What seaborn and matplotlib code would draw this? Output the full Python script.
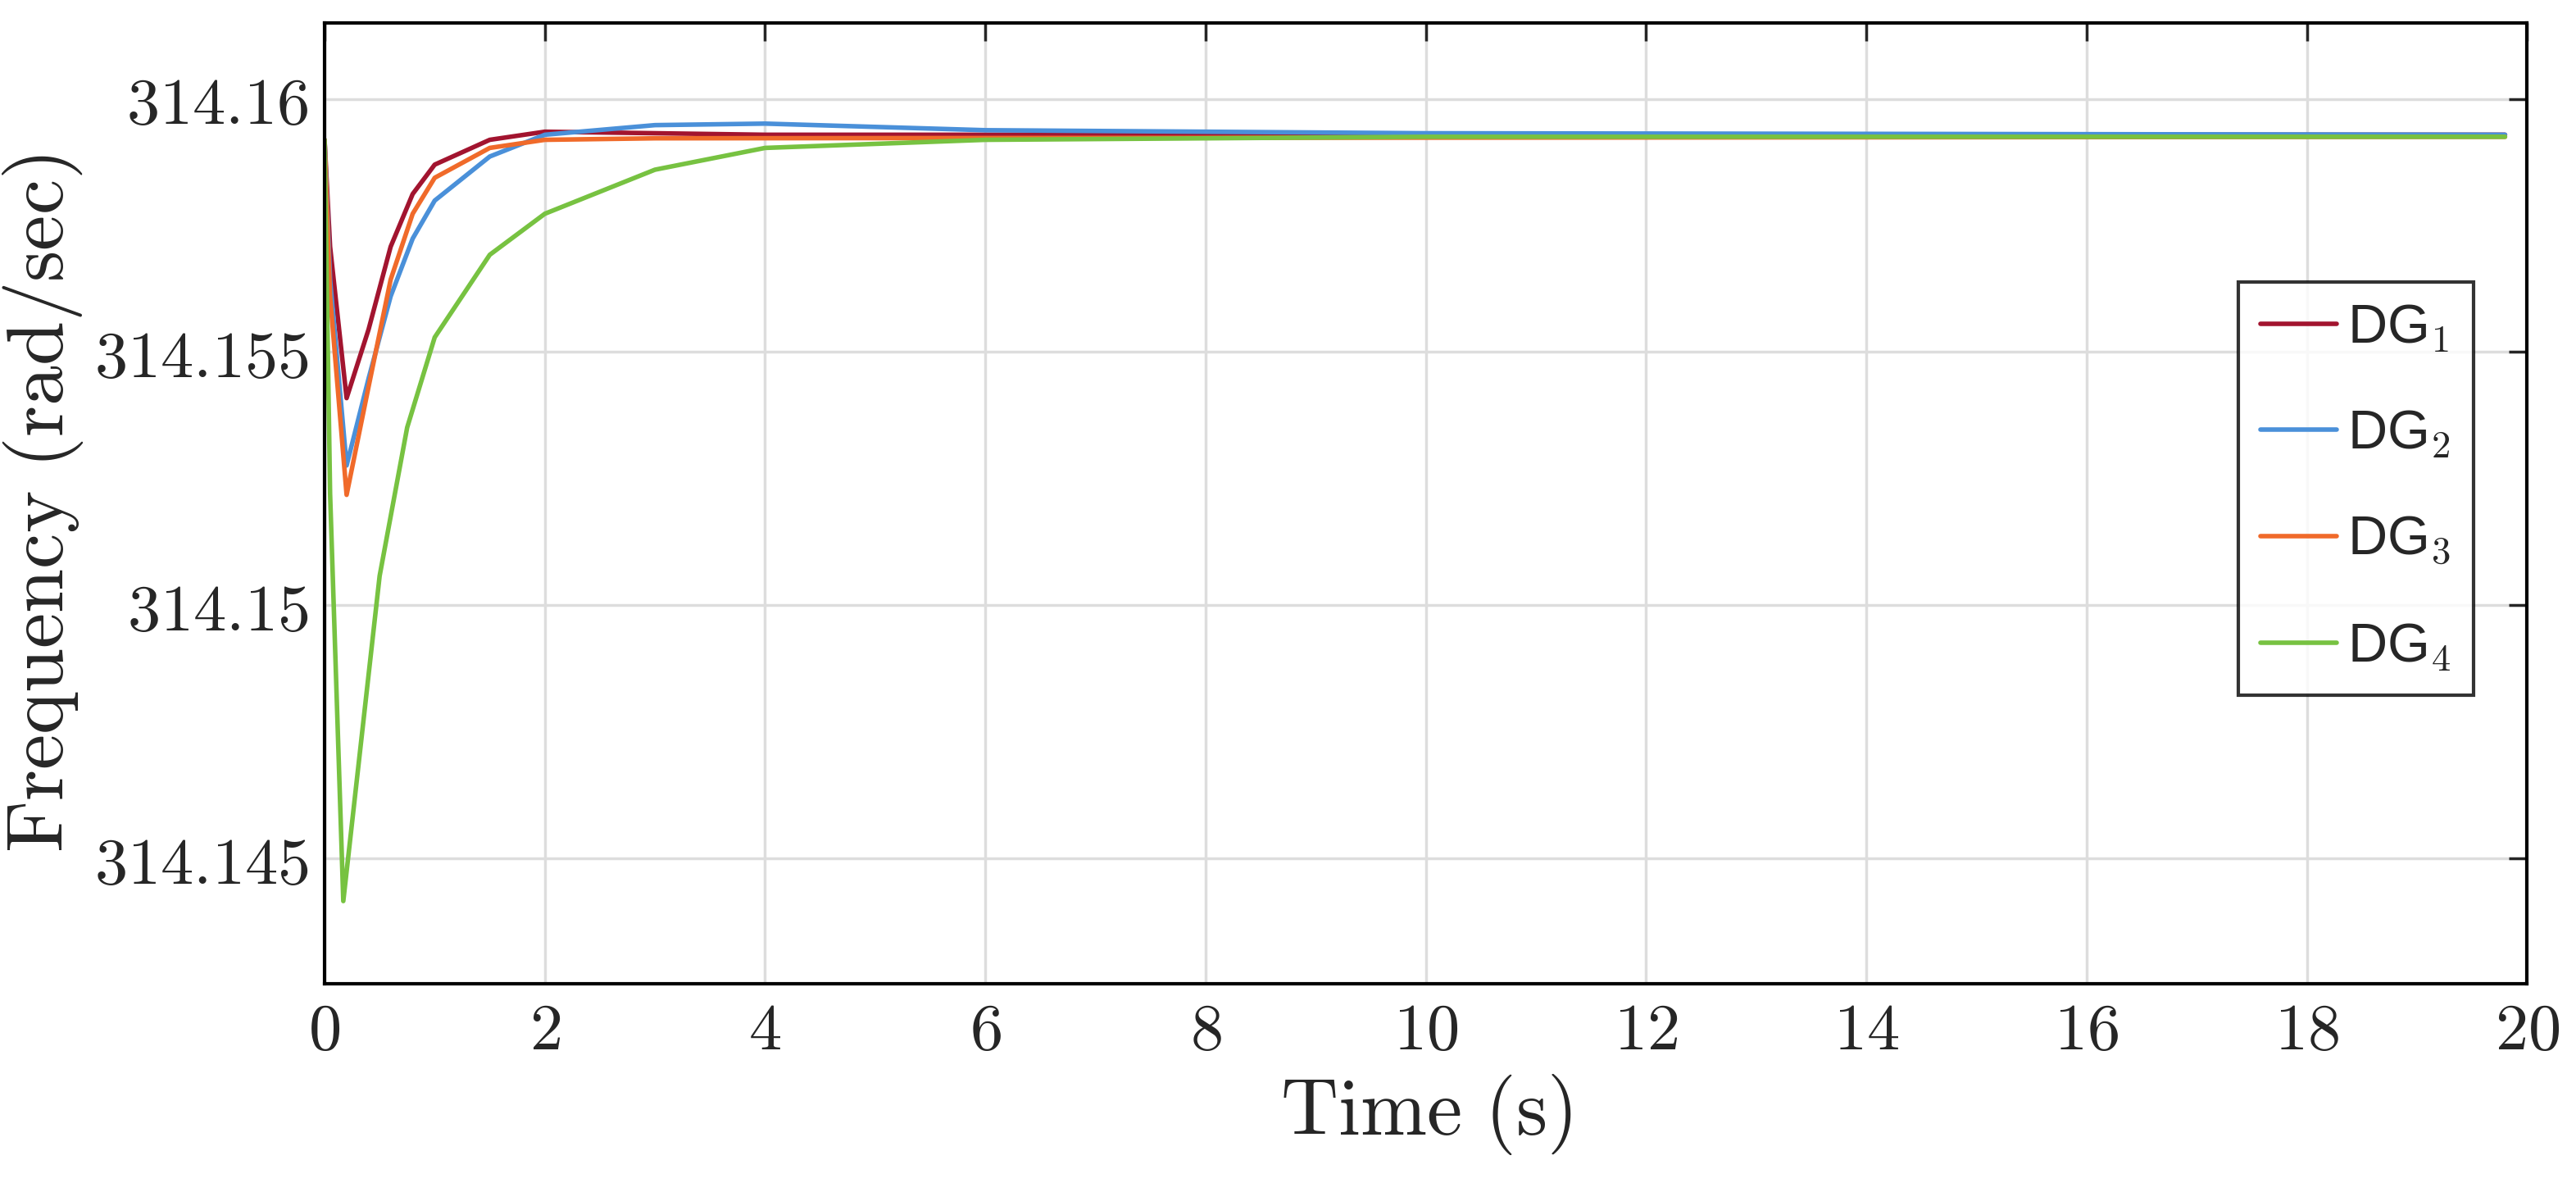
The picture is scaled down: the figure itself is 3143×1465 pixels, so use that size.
import numpy as np
import pandas as pd
import matplotlib
matplotlib.use("Agg")
import matplotlib.pyplot as plt
import seaborn as sns
from matplotlib.ticker import FuncFormatter

t1 = [0, 0.05, 0.2, 0.4, 0.6, 0.8, 1.0, 1.5, 2, 4, 19.8]
dg1 = [314.15919, 314.15708, 314.15409, 314.15545, 314.15708, 314.15812, 314.1587, 314.15919, 314.15935, 314.15929, 314.15929]
t2 = [0, 0.05, 0.2, 0.4, 0.6, 0.8, 1.0, 1.5, 2, 3, 4, 6, 10, 19.8]
dg2 = [314.15919, 314.15643, 314.15276, 314.15448, 314.1561, 314.15724, 314.15799, 314.15886, 314.15929, 314.15948, 314.15951, 314.15938, 314.15932, 314.15929]
t3 = [0, 0.05, 0.2, 0.4, 0.6, 0.8, 1.0, 1.5, 2, 3, 19.8]
dg3 = [314.15919, 314.1561, 314.15218, 314.15432, 314.15643, 314.15773, 314.15844, 314.15903, 314.15919, 314.15922, 314.15925]
t4 = [0, 0.05, 0.17, 0.3, 0.5, 0.75, 1.0, 1.5, 2, 3, 4, 6, 10, 19.8]
dg4 = [314.15919, 314.15221, 314.14416, 314.14669, 314.15058, 314.15351, 314.15529, 314.15692, 314.15773, 314.1586, 314.15903, 314.15919, 314.15925, 314.15925]
labels = [r"DG$_\mathsf{1}$", r"DG$_\mathsf{2}$", r"DG$_\mathsf{3}$", r"DG$_\mathsf{4}$"]
colors = ["#A2142F", "#4A90D9", "#F06A2A", "#77C241"]

frames = []
for t, v, lab in zip([t1, t2, t3, t4], [dg1, dg2, dg3, dg4], labels):
    frames.append(pd.DataFrame({"t": t, "f": v, "s": lab}))
df = pd.concat(frames, ignore_index=True)

sns.set_theme(style="white")
plt.rcParams["mathtext.fontset"] = "cm"
plt.rcParams["font.family"] = ["DejaVu Serif"]

fig = plt.figure(figsize=(31.43, 14.65), dpi=100)
ax = fig.add_axes([0.126, 0.181, 0.855, 0.8])
sns.lineplot(data=df, x="t", y="f", hue="s", palette=dict(zip(labels, colors)),
             linewidth=4, ax=ax, estimator=None, sort=False)
ax.set_xlim(0, 20)
ax.set_ylim(314.14253, 314.1615)
ax.set_xticks(np.arange(0, 21, 2))
ax.set_yticks([314.145, 314.15, 314.155, 314.16])
ax.xaxis.set_major_formatter(FuncFormatter(lambda x, p: r"$%d$" % x))
ax.yaxis.set_major_formatter(FuncFormatter(lambda y, p: r"$%s$" % ("%.3f" % y).rstrip("0")))
ax.tick_params(labelsize=58, direction="in", length=16, width=2.5, top=True, right=True, pad=14)
ax.grid(True, color="#dddddd", linewidth=2.5)
for s in ax.spines.values():
    s.set_linewidth(3)
    s.set_color("black")
ax.set_xlabel(r"$\mathrm{Time\ (s)}$", fontsize=70, labelpad=8)
ax.set_ylabel(r"$\mathrm{Frequency\ (rad/sec)}$", fontsize=70, labelpad=8)
leg = ax.legend(loc="upper right", bbox_to_anchor=(0.988, 0.759),
                prop={"family": "Liberation Sans", "size": 48}, labelspacing=1.0,
                handlelength=1.4, handletextpad=0.2, borderpad=0.4,
                frameon=True, fancybox=False, edgecolor="black")
plt.rcParams["mathtext.fontset"] = "dejavusans"
leg.get_frame().set_linewidth(3)
for l in leg.get_lines():
    l.set_linewidth(4)
fig.savefig("out.png", dpi=100)
